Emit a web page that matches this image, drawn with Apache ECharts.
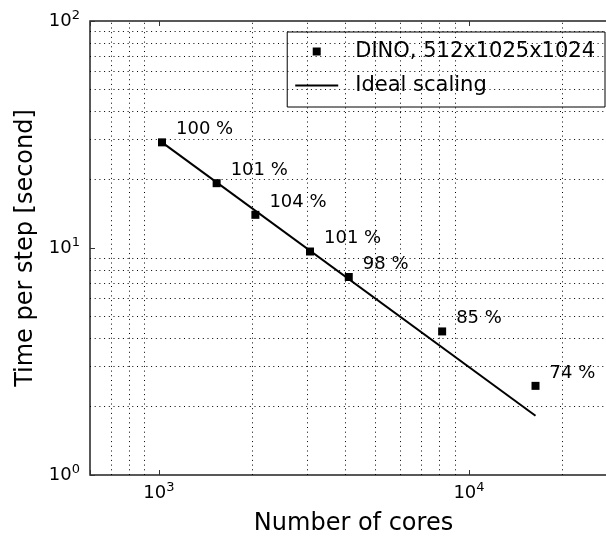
<!DOCTYPE html>
<html>
<head>
<meta charset="utf-8">
<title>DINO strong scaling</title>
<script src="https://cdn.jsdelivr.net/npm/echarts@6/dist/echarts.min.js"></script>
<style>
  html, body { margin: 0; padding: 0; background: #fff; }
  #chart { width: 606px; height: 538px; }
</style>
</head>
<body>
<div id="chart"></div>
<script>
// Strong scaling of DINO on a 512x1025x1024 grid
const cores = [1024, 1536, 2048, 3072, 4096, 8192, 16384];
const timePerStep = [29.2, 19.3, 14.0, 9.65, 7.45, 4.29, 2.47];
const efficiency = [100, 101, 104, 101, 98, 85, 74];

// Ideal scaling reference line (end points)
const idealCores = [1024, 16384];
const idealTimes = [29.2, 1.825];

// Axis ranges and minor grid positions
const xRange = [600, 30000];
const yRange = [1, 100];
const xMinorGrid = [700, 800, 900, 2000, 3000, 4000, 5000, 6000, 7000, 8000, 9000, 20000];
const yMinorGrid = [2, 3, 4, 5, 6, 7, 8, 9, 20, 30, 40, 50, 60, 70, 80, 90];

const seriesName = 'DINO, 512x1025x1024';
const idealName = 'Ideal scaling';

const FONT = 'DejaVu Sans';

function powerLabel(value) {
  const lg = Math.log10(value);
  const e = Math.round(lg);
  if (Math.abs(lg - e) > 1e-6) return '';
  return '{base|10}{sup|' + e + '}';
}

const richPow = {
  base: { fontFamily: FONT, fontSize: 18, lineHeight: 24, color: '#000' },
  sup: { fontFamily: FONT, fontSize: 13, lineHeight: 10, verticalAlign: 'top', color: '#000' }
};

const gridDots = { type: [1, 3.7], color: '#000', width: 1, opacity: 1 };

const chart = echarts.init(document.getElementById('chart'), null, { renderer: 'canvas' });

chart.setOption({
  backgroundColor: '#fff',
  animation: false,
  textStyle: { fontFamily: FONT },
  grid: {
    left: 90, right: -11, top: 21, bottom: 63,
    show: true, borderColor: '#222', borderWidth: 1.5,
    backgroundColor: 'transparent',
    containLabel: false,
    outerBoundsMode: 'none'
  },
  legend: {
    orient: 'vertical',
    right: 1, top: 32,
    backgroundColor: '#fff',
    borderColor: '#000', borderWidth: 1, borderRadius: 0,
    padding: [9, 10, 11, 8],
    itemWidth: 43, itemHeight: 8, itemGap: 13,
    textStyle: { fontFamily: FONT, fontSize: 21, color: '#000', padding: [0, 0, 0, 12] },
    data: [
      { name: seriesName, icon: 'path://M0 0H10V10H0Z', itemStyle: { color: '#000', opacity: 1 } },
      { name: idealName, icon: 'path://M0 0H43V2H0Z', itemStyle: { color: '#000', opacity: 1 } }
    ]
  },
  xAxis: [{
    type: 'log', logBase: 10,
    min: xRange[0], max: xRange[1],
    name: 'Number of cores', nameLocation: 'middle', nameGap: 37,
    nameTextStyle: { fontFamily: FONT, fontSize: 24, color: '#000' },
    axisLine: { show: false },
    axisTick: { show: true, inside: true, length: 5, lineStyle: { color: '#333', width: 1 } },
    axisLabel: { show: true, margin: 6, formatter: powerLabel, rich: richPow, showMinLabel: true, showMaxLabel: true },
    splitLine: { show: false },
    minorTick: { show: false }, minorSplitLine: { show: false }
  }, {
    type: 'log', logBase: 10, position: 'top',
    min: xRange[0], max: xRange[1],
    axisLine: { show: false },
    axisTick: { show: true, inside: true, length: 5, lineStyle: { color: '#333', width: 1 } },
    axisLabel: { show: false },
    splitLine: { show: false }
  }],
  yAxis: [{
    type: 'log', logBase: 10,
    min: yRange[0], max: yRange[1],
    name: 'Time per step [second]', nameLocation: 'middle', nameGap: 52,
    nameTextStyle: { fontFamily: FONT, fontSize: 24, color: '#000' },
    axisLine: { show: false },
    axisTick: { show: true, inside: true, length: 5, lineStyle: { color: '#333', width: 1 } },
    axisLabel: { show: true, margin: 10, formatter: powerLabel, rich: richPow },
    splitLine: { show: false }
  }],
  series: [
    {
      // dotted grid at the minor decades
      type: 'line', data: [], silent: true,
      markLine: {
        silent: true, symbol: 'none', animation: false,
        label: { show: false },
        lineStyle: gridDots,
        emphasis: { disabled: true },
        data: xMinorGrid.map(v => ({ xAxis: v })).concat(yMinorGrid.map(v => ({ yAxis: v })))
      },
      z: 1
    },
    {
      name: idealName,
      type: 'line',
      data: idealCores.map((c, i) => [c, idealTimes[i]]),
      symbol: 'none',
      lineStyle: { color: '#000', width: 2, opacity: 1 },
      itemStyle: { color: '#000', opacity: 1 },
      z: 3
    },
    {
      name: seriesName,
      type: 'scatter',
      data: cores.map((c, i) => [c, timePerStep[i]]),
      symbol: 'rect', symbolSize: 8,
      itemStyle: { color: '#000', opacity: 1 },
      label: {
        show: true, position: 'right', distance: 10, offset: [0, -13],
        fontFamily: FONT, fontSize: 18, color: '#000', opacity: 1,
        formatter: p => efficiency[p.dataIndex] + ' %'
      },
      z: 4
    }
  ]
});
</script>
</body>
</html>
